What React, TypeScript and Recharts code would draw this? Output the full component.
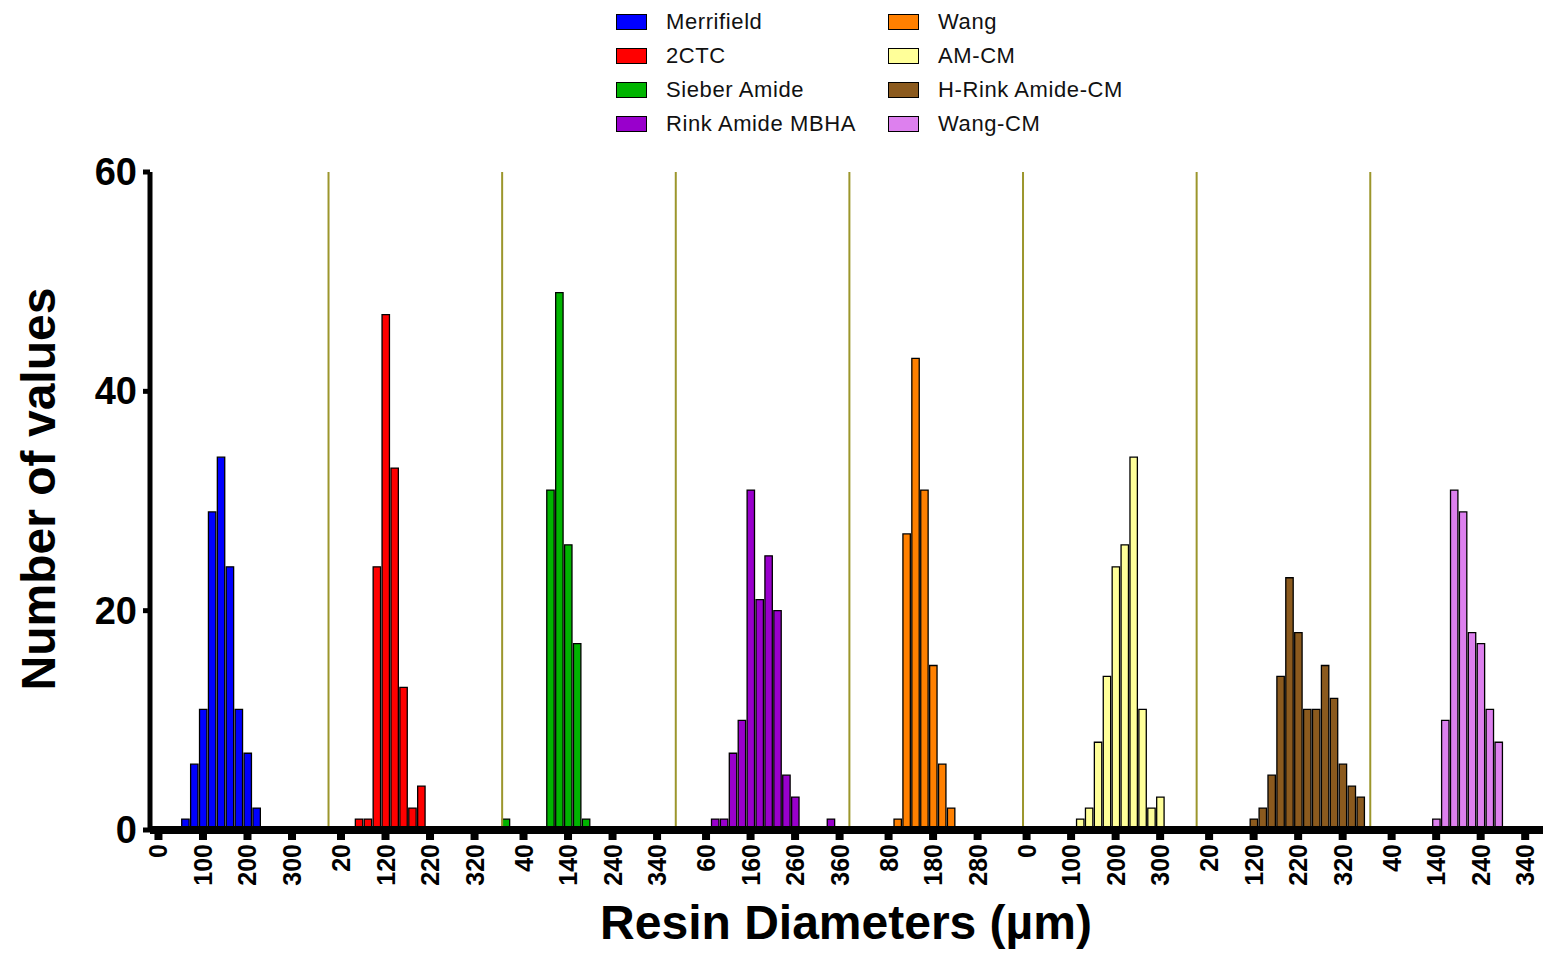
import { ComposedChart, Bar, XAxis, YAxis, ReferenceLine, Legend } from 'recharts'

// each resin gets its own stretch of the x axis, laid side by side
const SEGMENT_SPAN = 390
const FONT = "Arial, 'Liberation Sans', sans-serif"

const resinNames = [
  'Merrifield',
  '2CTC',
  'Sieber Amide',
  'Rink Amide MBHA',
  'Wang',
  'AM-CM',
  'H-Rink Amide-CM',
  'Wang-CM'
]
const resinColors = ['#0000ff', '#ff0000', '#00b400', '#9900cc', '#ff8000', '#ffff99', '#8b5a1e', '#dd80ee']

// bin centres (µm) and counts, one pair per resin
const merrifieldBins = [60, 80, 100, 120, 140, 160, 180, 200, 220]
const merrifieldCounts = [1, 6, 11, 29, 34, 24, 11, 7, 2]
const ctcBins = [60, 80, 100, 120, 140, 160, 180, 200]
const ctcCounts = [1, 1, 24, 47, 33, 13, 2, 4]
const sieberBins = [0, 100, 120, 140, 160, 180]
const sieberCounts = [1, 31, 49, 26, 17, 1]
const rinkMbhaBins = [80, 100, 120, 140, 160, 180, 200, 220, 240, 260, 340]
const rinkMbhaCounts = [1, 1, 7, 10, 31, 21, 25, 20, 5, 3, 1]
const wangBins = [100, 120, 140, 160, 180, 200, 220]
const wangCounts = [1, 27, 43, 31, 15, 6, 2]
const amCmBins = [120, 140, 160, 180, 200, 220, 240, 260, 280, 300]
const amCmCounts = [1, 2, 8, 14, 24, 26, 34, 11, 2, 3]
const hRinkBins = [120, 140, 160, 180, 200, 220, 240, 260, 280, 300, 320, 340, 360]
const hRinkCounts = [1, 2, 5, 14, 23, 18, 11, 11, 15, 12, 6, 4, 3]
const wangCmBins = [140, 160, 180, 200, 220, 240, 260, 280]
const wangCmCounts = [1, 10, 31, 29, 18, 17, 11, 8]

const resinBins = [merrifieldBins, ctcBins, sieberBins, rinkMbhaBins, wangBins, amCmBins, hRinkBins, wangCmBins]
const resinCounts = [merrifieldCounts, ctcCounts, sieberCounts, rinkMbhaCounts, wangCounts, amCmCounts, hRinkCounts, wangCmCounts]

// tick labels shown under each segment
const segmentTicks = [
  [0, 100, 200, 300],
  [20, 120, 220, 320],
  [40, 140, 240, 340],
  [60, 160, 260, 360],
  [80, 180, 280],
  [0, 100, 200, 300],
  [20, 120, 220, 320],
  [40, 140, 240, 340]
]
const yTicks = [0, 20, 40, 60]

const seriesKeys = resinNames.map((_, i) => `r${i}`)

const data: Record<string, number>[] = []
resinBins.forEach((bins, i) => {
  bins.forEach((b, j) => {
    data.push({ x: i * SEGMENT_SPAN + b, [seriesKeys[i]]: resinCounts[i][j] })
  })
})

const tickLabel: Record<number, number> = {}
const xTicks: number[] = []
segmentTicks.forEach((ticks, i) => {
  ticks.forEach(t => {
    tickLabel[i * SEGMENT_SPAN + t] = t
    xTicks.push(i * SEGMENT_SPAN + t)
  })
})

const separators = resinNames.slice(1).map((_, i) => (i + 1) * SEGMENT_SPAN - 8)

const XTick = ({ x, y, payload }: any) => (
  <g>
    <rect x={x - 4} y={y} width={8} height={10} fill="#000" />
    <text
      transform={`translate(${x},${y + 14}) rotate(-90)`}
      textAnchor="end"
      dominantBaseline="central"
      fontSize={25}
      fontWeight="bold"
      fontFamily={FONT}
      fill="#000"
    >
      {tickLabel[payload.value]}
    </text>
  </g>
)

const YTick = ({ x, y, payload }: any) => (
  <g>
    <line x1={x - 7} x2={x} y1={y} y2={y} stroke="#000" strokeWidth={5} />
    <text
      x={x - 13}
      y={y}
      textAnchor="end"
      dominantBaseline="central"
      fontSize={38}
      fontWeight="bold"
      fontFamily={FONT}
      fill="#000"
    >
      {payload.value}
    </text>
  </g>
)

// two columns, filled top to bottom in series order
const renderLegend = ({ payload }: any) => {
  const items = [...(payload || [])].sort(
    (a: any, b: any) => resinNames.indexOf(a.value) - resinNames.indexOf(b.value)
  )
  return (
    <div
      style={{
        display: 'grid',
        gridAutoFlow: 'column',
        gridTemplateRows: 'repeat(4, 34px)',
        gridTemplateColumns: '272px 260px',
        fontFamily: FONT,
        fontSize: 22,
        letterSpacing: 0.6,
        color: '#111'
      }}
    >
      {items.map((entry: any) => (
        <div key={entry.value} style={{ display: 'flex', alignItems: 'center' }}>
          <span
            style={{
              width: 29,
              height: 14,
              background: entry.color,
              border: '1px solid #000',
              marginRight: 19,
              display: 'inline-block'
            }}
          />
          <span>{entry.value}</span>
        </div>
      ))}
    </div>
  )
}

export default function App() {
  return (
    <div style={{ position: 'absolute', left: 0, top: 0 }}>
      <ComposedChart
        width={1543}
        height={953}
        data={data}
        margin={{ top: 172, right: 0, bottom: 0, left: 0 }}
      >
        <XAxis
          type="number"
          dataKey="x"
          domain={[-19, 3110]}
          allowDataOverflow
          ticks={xTicks}
          interval={0}
          tick={<XTick />}
          tickLine={false}
          tickSize={0}
          tickMargin={0}
          height={123}
          axisLine={{ stroke: '#000', strokeWidth: 8 }}
          label={{
            content: () => (
              <text
                x={846}
                y={939}
                textAnchor="middle"
                fontSize={48}
                fontWeight="bold"
                fontFamily={FONT}
                fill="#000"
              >
                Resin Diameters (µm)
              </text>
            )
          }}
        />
        <YAxis
          type="number"
          domain={[0, 60]}
          ticks={yTicks}
          interval={0}
          width={150}
          tick={<YTick />}
          tickLine={false}
          tickSize={0}
          tickMargin={0}
          axisLine={{ stroke: '#000', strokeWidth: 5 }}
          label={{
            content: () => (
              <text
                transform="translate(38,489) rotate(-90)"
                textAnchor="middle"
                dominantBaseline="central"
                fontSize={48}
                fontWeight="bold"
                fontFamily={FONT}
                fill="#000"
              >
                Number of values
              </text>
            )
          }}
        />
        {separators.map(s => (
          <ReferenceLine key={s} x={s} stroke="#9c962c" strokeWidth={2} />
        ))}
        {seriesKeys.map((k, i) => (
          <Bar
            key={k}
            dataKey={k}
            name={resinNames[i]}
            stackId="h"
            fill={resinColors[i]}
            stroke="#000"
            strokeWidth={1.3}
            barSize={7.4}
            isAnimationActive={false}
          />
        ))}
        <Legend
          layout="horizontal"
          verticalAlign="middle"
          align="center"
          content={renderLegend}
          wrapperStyle={{ top: 5, left: 616, width: 540 }}
        />
      </ComposedChart>
    </div>
  )
}
